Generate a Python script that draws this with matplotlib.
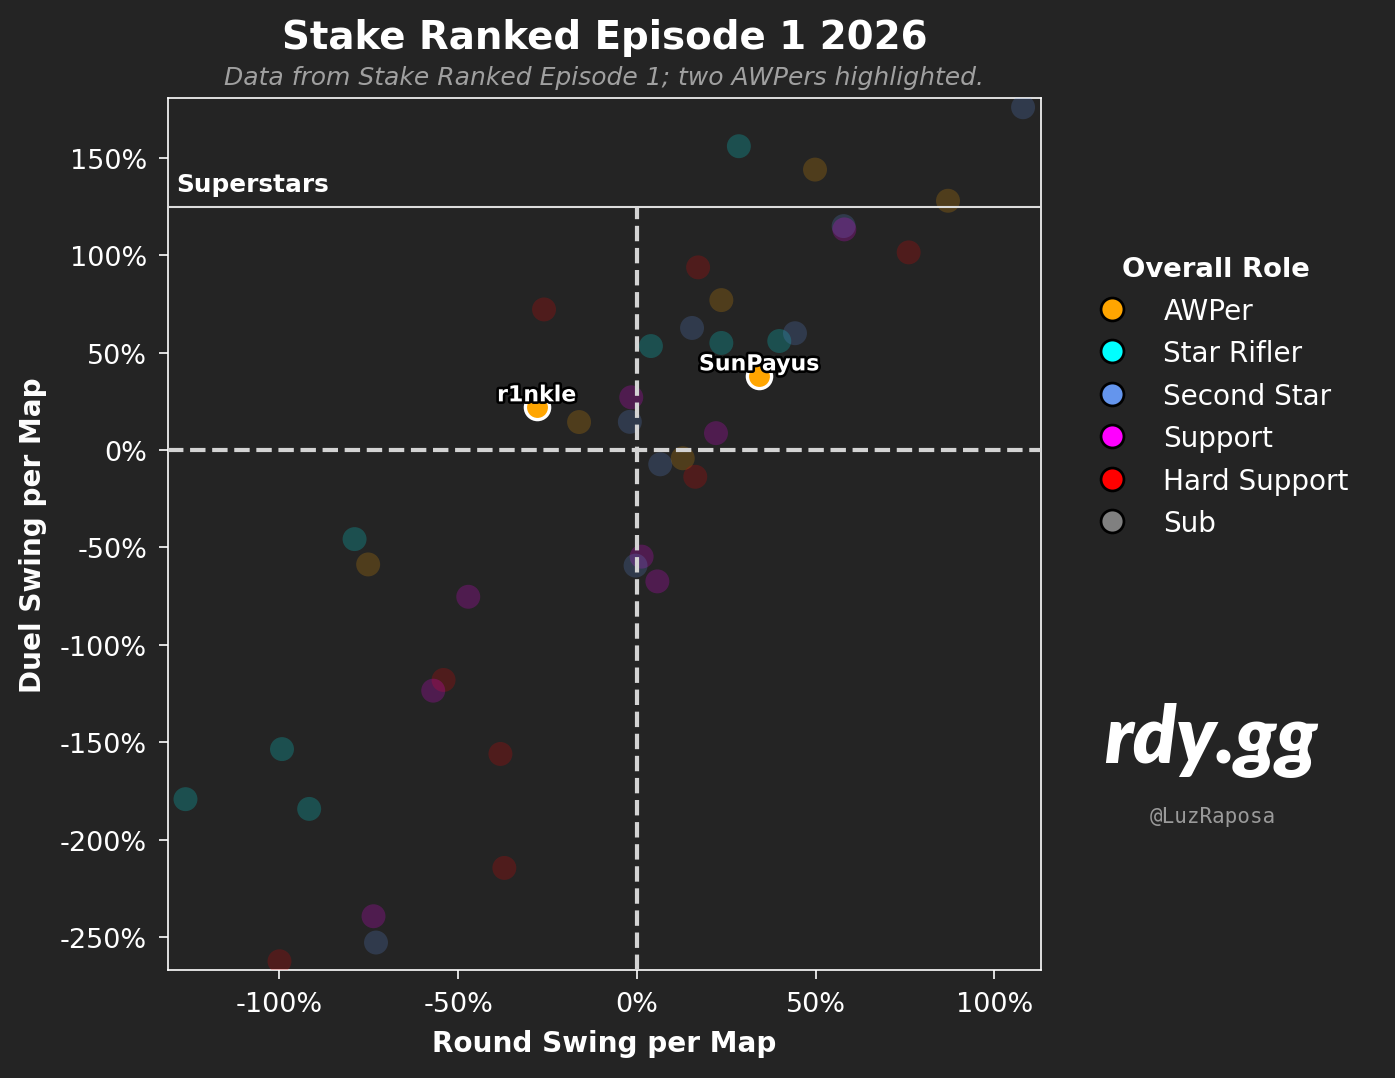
from __future__ import annotations

import matplotlib

matplotlib.use("Agg")
import matplotlib.patheffects as pe
import matplotlib.pyplot as plt
from matplotlib.lines import Line2D
from matplotlib.ticker import FuncFormatter

BG = "#242424"
FG = "white"

ROLES = ["AWPer", "Star Rifler", "Second Star", "Support", "Hard Support", "Sub"]
ROLE_COLORS = ["orange", "cyan", "cornflowerblue", "magenta", "red", "gray"]

# round swing (%), duel swing (%), role per player
round_swing = [
    108.0, 28.5, 49.8, 87.0, 57.8, 58.0, 76.0, 17.1, -26.0, 23.6,
    15.4, 3.9, 23.6, 39.8, 44.2, 34.2, -28.0, -16.2, -1.6, -2.0,
    22.1, 6.5, 12.8, 16.3, -79.0, -75.2, -47.2, 1.3, -0.4, 5.7,
    -54.1, -57.0, -99.3, -38.2, -126.3, -91.7, -37.1, -73.7, -73.0, -100.0,
]
duel_swing = [
    176.0, 156.0, 144.0, 128.0, 115.0, 113.3, 101.5, 93.8, 72.2, 77.0,
    62.7, 53.4, 55.0, 56.0, 60.0, 37.8, 21.9, 14.4, 27.1, 14.5,
    8.7, -7.3, -4.2, -13.7, -45.7, -58.7, -75.3, -54.7, -59.3, -67.4,
    -118.0, -123.5, -153.5, -156.0, -179.2, -184.2, -214.5, -239.3, -252.8, -262.4,
]
roles = [
    "Second Star", "Star Rifler", "AWPer", "AWPer", "Second Star", "Support", "Hard Support",
    "Hard Support", "Hard Support", "AWPer", "Second Star", "Star Rifler", "Star Rifler",
    "Star Rifler", "Second Star", "AWPer", "AWPer", "AWPer", "Support", "Second Star",
    "Support", "Second Star", "AWPer", "Hard Support", "Star Rifler", "AWPer", "Support",
    "Support", "Second Star", "Support", "Hard Support", "Support", "Star Rifler",
    "Hard Support", "Star Rifler", "Star Rifler", "Hard Support", "Support", "Second Star",
    "Hard Support",
]
players = [""] * len(roles)
players[15] = "SunPayus"
players[16] = "r1nkle"
highlighted = ["SunPayus", "r1nkle"]

superstar_line = 125
x_ticks = [-100, -50, 0, 50, 100]
y_ticks = [-250, -200, -150, -100, -50, 0, 50, 100, 150]


def pct(v, _pos=None) -> str:
    return f"{v:.0f}%"


def main() -> None:
    plt.rcParams["font.family"] = ["DejaVu Sans"]
    fig = plt.figure(figsize=(9.3, 7.193), dpi=150, facecolor=BG)
    ax = fig.add_axes([0.1204, 0.1001, 0.6258, 0.8081], facecolor=BG)

    color_of = dict(zip(ROLES, ROLE_COLORS))

    ax.scatter(
        round_swing, duel_swing,
        c=[color_of[r] for r in roles], s=132, alpha=0.2, linewidths=0, zorder=3,
    )

    for x, y, r, name in zip(round_swing, duel_swing, roles, players):
        if name not in highlighted:
            continue
        ax.scatter([x], [y], c=color_of[r], s=135, edgecolors="white", linewidths=1.6, zorder=5)
        ax.annotate(
            name, (x, y), xytext=(0, 1), textcoords="offset points",
            ha="center", va="bottom", fontsize=10.6, fontweight="bold", color="white", zorder=6,
            path_effects=[pe.withStroke(linewidth=2.5, foreground="black")],
        )

    ax.set_xlim(-131.2, 113.0)
    ax.set_ylim(-266.9, 180.7)

    ax.axhline(0, color="#d3d3d3", linestyle="--", linewidth=2, zorder=4)
    ax.vlines(0, -266.9, superstar_line, color="#d3d3d3", linestyles="--",
              linewidth=2, zorder=4)
    ax.axhline(superstar_line, color="#dddddd", linewidth=1.0, zorder=4)
    ax.annotate(
        "Superstars", xy=(0.01, superstar_line), xycoords=("axes fraction", "data"),
        xytext=(0, 5), textcoords="offset points", ha="left", va="bottom",
        fontsize=11.9, fontweight="bold", color="white",
    )

    ax.set_xticks(x_ticks)
    ax.set_yticks(y_ticks)
    ax.xaxis.set_major_formatter(FuncFormatter(pct))
    ax.yaxis.set_major_formatter(FuncFormatter(pct))
    ax.tick_params(colors=FG, labelsize=13, length=4.5, pad=5.5)
    for spine in ax.spines.values():
        spine.set_color(FG)
    ax.set_xlabel("Round Swing per Map", color=FG, fontsize=13.4, fontweight="bold", labelpad=6)
    ax.set_ylabel("Duel Swing per Map", color=FG, fontsize=13.4, fontweight="bold", labelpad=6)

    cx = 0.1204 + 0.6258 / 2
    fig.text(cx, 0.965, "Stake Ranked Episode 1 2026", ha="center", va="center",
             fontsize=18.6, fontweight="bold", color=FG)
    fig.text(cx, 0.928, "Data from Stake Ranked Episode 1; two AWPers highlighted.",
             ha="center", va="center", fontsize=12, style="italic", color="#a0a0a0")

    handles = [
        Line2D([], [], marker="o", linestyle="", markersize=11, markerfacecolor=c,
               markeredgecolor="black", markeredgewidth=1.3, label=r)
        for r, c in zip(ROLES, ROLE_COLORS)
    ]
    leg = fig.legend(
        handles=handles, title="Overall Role", loc="upper left",
        bbox_to_anchor=(0.759, 0.785), frameon=False, fontsize=13.4,
        title_fontproperties={"weight": "bold", "size": 13.2},
        labelspacing=0.52, handletextpad=0.85,
    )
    for t in leg.get_texts():
        t.set_color(FG)
    leg.get_title().set_color(FG)

    fig.text(0.868, 0.314, "rdy.gg", ha="center", va="center", fontsize=38,
             fontweight="heavy", style="italic", family=["Lato", "DejaVu Sans"], color=FG)
    fig.text(0.8695, 0.243, "@LuzRaposa", ha="center", va="center", fontsize=10,
             family="DejaVu Sans Mono", color="#9a9a9a")

    fig.savefig("out.png", dpi=150, facecolor=BG)


if __name__ == "__main__":
    main()
